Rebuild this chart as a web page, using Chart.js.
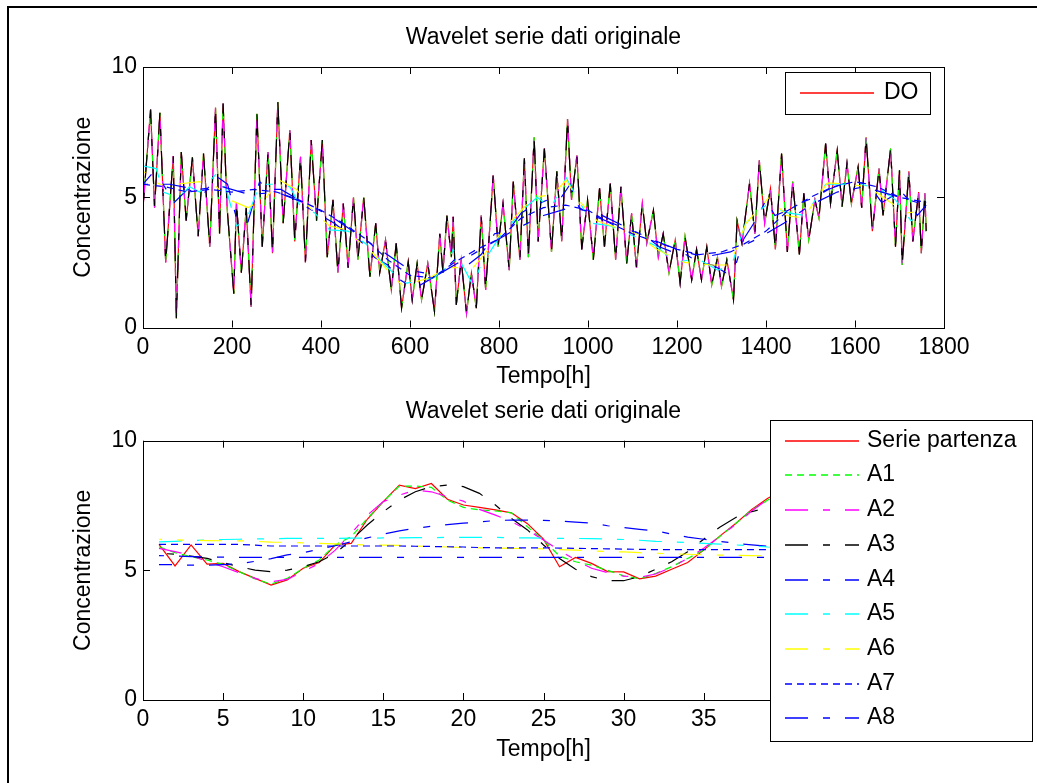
<!DOCTYPE html>
<html>
<head>
<meta charset="utf-8">
<title>Wavelet serie dati originale</title>
<script src="https://cdn.jsdelivr.net/npm/chart.js@4.4.1/dist/chart.umd.min.js"></script>
<style>
  html, body { margin: 0; padding: 0; background: #fff; overflow: hidden; }
  #page { position: relative; width: 1037px; height: 783px; overflow: hidden; }
  #frame { position: absolute; left: 7px; top: 6px; width: 1100px; height: 900px;
           border-left: 2px solid #000; border-top: 2px solid #000; }
  canvas { position: absolute; left: 0; }
  #topChart { top: 0; }
  #bottomChart { top: 390px; }
</style>
</head>
<body>
<div id="page">
  <div id="frame"></div>
  <canvas id="topChart" width="1037" height="390"></canvas>
  <canvas id="bottomChart" width="1037" height="393"></canvas>
</div>
<script>
// ---- top plot: full DO record (hours, value at each daily peak / trough) ----
const topHours = [0,17,26,38,51,68,75,86,97,111,124,136,150,163,172,180,189,204,210,221,
  232,243,256,268,281,291,303,315,330,341,354,365,378,390,403,414,427,438,450,461,
  473,483,496,510,523,532,545,558,569,581,596,605,616,626,640,655,667,674,683,693,
  697,704,715,727,738,749,760,770,787,798,809,823,832,847,857,866,879,888,902,918,
  930,941,954,963,975,986,999,1012,1026,1037,1050,1062,1074,1087,1098,1109,1122,1132,1147,1158,
  1169,1182,1196,1207,1218,1233,1244,1255,1267,1278,1291,1300,1312,1327,1335,1346,1363,1375,1385,1397,
  1410,1421,1435,1448,1460,1475,1485,1496,1510,1519,1534,1545,1560,1571,1582,1592,1607,1615,1625,1639,
  1654,1663,1680,1691,1700,1706,1721,1730,1743,1749,1757,1760];
const topDO = [4.6,8.37,4.6,8.24,2.5,6.58,0.36,6.74,4.1,6.53,3.5,6.68,3.1,8.44,3.6,8.6,4.6,1.3,4.8,2.1,
  4.6,0.8,8.2,3.1,6.74,2.85,8.66,4.0,7.57,3.3,6.55,2.5,7.2,4.1,7.2,2.7,4.9,2.1,4.76,2.3,
  5.0,2.6,5.0,1.95,4.0,2.1,3.36,1.44,3.23,0.74,2.53,1.06,2.46,1.06,2.46,0.61,3.6,2.1,4.3,2.7,
  4.25,0.87,2.6,0.55,2.1,0.74,4.3,1.44,5.85,3.1,4.76,2.2,5.6,2.6,6.5,2.7,7.3,3.3,6.87,2.9,
  6.0,3.3,8.0,4.9,6.6,3.0,4.9,2.6,5.34,3.1,5.53,2.6,5.4,2.46,4.38,2.3,4.76,3.23,4.5,2.7,
  3.6,2.1,3.36,1.7,3.5,1.83,3.0,1.83,3.1,1.63,2.7,1.57,2.6,1.06,4.1,3.23,5.53,3.6,6.42,4.0,
  5.34,3.0,6.68,2.9,5.6,2.8,5.15,3.36,4.9,4.2,7.06,4.76,6.8,4.64,6.3,4.75,6.17,4.6,7.3,3.7,
  6.1,4.3,6.87,3.1,6.04,2.4,6.0,3.3,5.2,2.85,5.15,3.7];
// A1..A3 lie on top of DO at this scale, so they use the same reading
const topA1 = topDO;
const topA2 = topDO;
const topA3 = topDO;

const topA4Hours = [0,20,45,70,100,135,165,190,210,235,262,280,310,340,370,400,430,460,490,520,
  550,580,610,640,670,700,730,760,790,820,850,880,910,940,960,980,1010,1040,1070,1100,
  1130,1160,1190,1220,1250,1280,1310,1330,1350,1380,1400,1420,1450,1480,1510,1540,1570,1600,1630,1660,
  1680,1700,1720,1740,1760];
const topA4 = [5.5,5.9,5.5,4.8,5.3,5.1,5.8,5.5,4.2,4.0,5.6,5.3,5.3,5.0,4.6,4.3,4.0,3.6,3.3,2.7,
  2.4,1.8,1.5,1.8,2.1,2.6,2.4,2.8,3.6,3.7,4.4,4.7,4.9,5.0,5.5,4.6,4.3,4.1,3.9,3.7,
  3.5,3.1,2.9,2.8,2.5,2.4,2.1,2.3,3.4,4.2,4.9,4.3,4.5,4.8,5.0,5.3,5.5,5.6,5.5,4.8,
  5.0,5.3,4.9,4.3,4.7];

const topA5Hours = [0,30,45,79,105,127,165,187,210,232,262,303,330,352,386,419,461,502,532,562,
  592,625,652,682,697,727,742,757,802,859,886,917,951,978,1009,1051,1097,1151,1197,1246,
  1292,1323,1354,1400,1450,1488,1534,1580,1614,1657,1691,1726,1760];
const topA5 = [6.2,6.1,5.2,5.0,5.4,5.2,5.9,5.3,3.9,4.1,5.5,5.5,5.4,4.7,4.4,3.75,3.7,3.2,2.6,2.1,
  1.7,1.8,1.9,2.3,3.0,2.1,1.6,2.3,3.5,4.6,5.0,4.6,5.75,4.9,4.0,3.9,3.55,3.15,2.5,2.65,
  2.2,2.4,4.0,4.7,4.4,4.3,5.5,5.5,5.5,5.3,4.9,4.1,4.4];

const topA6Hours = [0,37,75,127,165,195,236,277,307,345,375,419,457,479,517,554,584,622,644,682,
  742,786,817,878,920,951,978,1020,1070,1108,1154,1216,1277,1319,1355,1407,1446,1484,1538,1584,
  1630,1680,1718,1760];
const topA6 = [6.0,5.5,5.5,5.6,5.4,4.9,4.6,5.0,5.65,5.3,4.6,3.9,3.75,3.4,2.85,2.1,1.6,1.8,1.9,2.3,
  2.3,3.2,3.9,5.0,5.1,5.65,4.9,4.1,3.8,3.6,3.0,2.5,2.4,2.4,4.0,5.0,4.3,4.2,5.55,5.5,
  5.4,4.8,4.4,4.5];

const topA7Hours = [0,50,100,150,200,250,300,350,400,450,500,550,600,650,700,750,800,850,900,950,
  1000,1050,1100,1150,1200,1250,1300,1350,1400,1450,1500,1550,1600,1650,1700,1760];
const topA7 = [5.5,5.4,5.2,5.3,5.2,5.3,5.2,4.9,4.5,4.0,3.4,2.6,2.0,1.9,2.5,3.0,3.4,4.2,4.6,4.7,
  4.5,4.0,3.6,3.3,3.0,2.8,2.9,3.2,3.7,4.5,5.0,5.4,5.6,5.4,5.0,4.8];

const topA8Hours = [0,60,120,180,240,300,360,420,480,540,600,660,720,780,840,900,960,1020,1080,1140,
  1200,1260,1320,1380,1440,1500,1560,1620,1680,1740,1760];
const topA8 = [5.5,5.5,5.3,5.4,5.1,5.2,4.8,4.3,3.6,2.9,2.2,2.0,2.6,3.2,3.8,4.3,4.6,4.4,3.9,3.4,
  3.0,2.7,2.9,3.4,4.0,4.7,5.2,5.4,5.1,4.8,4.6];

// ---- bottom plot: first 40 hours ----
const bottomHours = [1,2,3,4,5,6,7,8,9,10,11,12,13,14,15,16,17,18,19,20,
  21,22,23,24,25,26,27,28,29,30,31,32,33,34,35,36,37,38,39,40];
const seriePartenza = [6.0,5.17,5.98,5.24,5.27,4.95,4.69,4.43,4.63,5.08,5.3,5.98,6.04,6.97,7.65,8.29,8.15,8.35,7.74,7.52,
  7.43,7.33,7.22,6.8,6.2,5.14,5.5,5.27,4.95,4.94,4.67,4.78,5.04,5.3,5.78,6.32,6.81,7.35,7.78,8.1];
const bottomA1 = [5.91,5.68,5.53,5.4,5.23,4.95,4.67,4.47,4.69,5.08,5.4,5.98,6.3,7.0,7.65,8.25,8.25,8.2,7.71,7.43,
  7.33,7.29,7.22,6.68,6.17,5.55,5.33,5.2,5.0,4.79,4.67,4.88,5.14,5.46,5.78,6.3,6.81,7.33,7.71,8.05];
const bottomA2 = [5.85,5.72,5.59,5.33,5.14,4.91,4.69,4.56,4.65,4.95,5.27,5.78,6.43,7.13,7.65,7.9,8.1,8.03,7.84,7.67,
  7.35,7.13,6.88,6.56,6.17,5.76,5.4,5.08,4.91,4.78,4.73,4.86,5.12,5.46,5.85,6.3,6.77,7.29,7.74,8.1];
const bottomA3 = [5.66,5.62,5.55,5.46,5.3,5.14,5.01,4.95,5.01,5.14,5.33,5.66,6.17,6.75,7.26,7.71,8.03,8.23,8.29,8.23,
  7.97,7.52,7.0,6.56,5.98,5.46,5.04,4.76,4.6,4.6,4.76,5.04,5.33,5.72,6.2,6.66,7.04,7.26,7.43,7.55];
const bottomA4 = [5.22,5.22,5.2,5.2,5.22,5.25,5.35,5.45,5.6,5.68,5.82,5.95,6.1,6.25,6.4,6.52,6.62,6.7,6.76,6.82,
  6.87,6.92,6.94,6.94,6.93,6.9,6.86,6.82,6.72,6.65,6.58,6.52,6.4,6.28,6.2,6.12,6.04,5.98,5.93,5.9];
const bottomA5 = [6.1,6.12,6.15,6.17,6.19,6.2,6.21,6.22,6.23,6.23,6.23,6.23,6.24,6.24,6.25,6.25,6.26,6.26,6.27,6.27,
  6.27,6.27,6.26,6.25,6.24,6.23,6.23,6.22,6.21,6.19,6.16,6.12,6.1,6.07,6.04,6.01,5.98,5.94,5.9,5.88];
const bottomA6 = [6.2,6.18,6.16,6.15,6.14,6.14,6.12,6.09,6.08,6.06,6.04,6.02,6.0,5.98,5.97,5.96,5.94,5.92,5.9,5.88,
  5.87,5.86,5.85,5.84,5.83,5.8,5.78,5.75,5.73,5.71,5.68,5.66,5.64,5.62,5.6,5.59,5.58,5.57,5.56,5.55];
const bottomA7 = [6.0,6.0,6.0,6.0,6.0,6.0,5.97,5.94,5.94,5.94,5.94,5.94,5.94,5.94,5.94,5.94,5.93,5.92,5.91,5.9,
  5.88,5.87,5.87,5.87,5.87,5.86,5.85,5.84,5.83,5.82,5.81,5.8,5.8,5.8,5.8,5.8,5.8,5.8,5.8,5.8];
const bottomA8 = [5.57,5.55,5.53,5.52,5.51,5.5,5.5,5.5,5.5,5.5,5.5,5.5,5.5,5.5,5.5,5.5,5.5,5.5,5.5,5.5,
  5.5,5.5,5.5,5.5,5.5,5.5,5.5,5.5,5.5,5.5,5.5,5.5,5.5,5.5,5.5,5.5,5.5,5.5,5.5,5.5];

const xTicksTop = { min: 0, max: 1800, step: 200 };
const xTicksBottom = { min: 0, max: 50, step: 5 };
const yTicks = { min: 0, max: 10, step: 5 };

// line styles like matlab: r-, g--, m-., k-., b-., c-., y-., b--, b-.
const DASH = [7, 5];
const DASHDOT = [23, 15, 7, 15];
const styles = [
  { color: '#ff0000', dash: [] },
  { color: '#00ff00', dash: DASH },
  { color: '#ff00ff', dash: DASHDOT },
  { color: '#000000', dash: DASHDOT },
  { color: '#0000ff', dash: DASHDOT },
  { color: '#00ffff', dash: DASHDOT },
  { color: '#ffff00', dash: DASHDOT },
  { color: '#0000ff', dash: DASH },
  { color: '#0000ff', dash: DASHDOT }
];
// dash phase per series, so overlapping dashed lines don't hide each other
const dashOffsets = [0, 0, 0, 30, 10, 0, 20, 0, 40];

const FONT = '"Liberation Sans", Arial, Helvetica, sans-serif';
const FS = 23;

function pts(xs, ys) {
  return xs.map((x, i) => ({ x: x, y: ys[i] }));
}

function makeSet(label, data, k) {
  return {
    label: label,
    data: data,
    borderColor: styles[k].color,
    borderDash: styles[k].dash,
    borderDashOffset: dashOffsets[k],
    borderWidth: 1.2,
    pointRadius: 0,
    tension: 0,
    fill: false,
    order: 9 - k   // later series on top, as in the original plot
  };
}

// box + inward tick marks on all four sides
const matlabAxes = {
  id: 'matlabAxes',
  afterDatasetsDraw(chart) {
    const { ctx, chartArea: a, scales: { x, y } } = chart;
    ctx.save();
    ctx.strokeStyle = '#000';
    ctx.lineWidth = 1;
    ctx.setLineDash([]);
    ctx.beginPath();
    x.ticks.forEach(t => {
      const px = Math.round(x.getPixelForValue(t.value)) + 0.5;
      ctx.moveTo(px, a.bottom); ctx.lineTo(px, a.bottom - 7);
      ctx.moveTo(px, a.top); ctx.lineTo(px, a.top + 7);
    });
    y.ticks.forEach(t => {
      const py = Math.round(y.getPixelForValue(t.value)) + 0.5;
      ctx.moveTo(a.left, py); ctx.lineTo(a.left + 7, py);
      ctx.moveTo(a.right, py); ctx.lineTo(a.right - 7, py);
    });
    ctx.stroke();
    ctx.strokeRect(Math.round(a.left) + 0.5, Math.round(a.top) + 0.5,
                   Math.round(a.width), Math.round(a.height));
    ctx.restore();
  }
};

// legend box drawn over the axes, at a fixed place like matlab's
function boxLegend(cfg) {
  return {
    id: 'boxLegend',
    afterDraw(chart) {
      const ctx = chart.ctx;
      const [l, t, r, b] = cfg.box;
      ctx.save();
      ctx.fillStyle = '#fff';
      ctx.fillRect(l, t, r - l, b - t);
      ctx.strokeStyle = '#000';
      ctx.lineWidth = 1;
      ctx.setLineDash([]);
      ctx.strokeRect(l + 0.5, t + 0.5, r - l, b - t);
      ctx.font = FS + 'px ' + FONT;
      ctx.textBaseline = 'middle';
      ctx.textAlign = 'left';
      cfg.items.forEach((k, n) => {
        const ds = chart.data.datasets[k];
        const yy = Math.round(cfg.firstRow + n * cfg.rowStep);
        ctx.strokeStyle = ds.borderColor;
        ctx.lineWidth = 1.6;
        ctx.setLineDash(ds.borderDash);
        ctx.beginPath();
        ctx.moveTo(cfg.lineX[0], yy);
        ctx.lineTo(cfg.lineX[1], yy);
        ctx.stroke();
        ctx.setLineDash([]);
        ctx.fillStyle = '#000';
        ctx.fillText(ds.label, cfg.textX, yy);
      });
      ctx.restore();
    }
  };
}

function axisOptions(xr, xHeight, xTitlePad, titlePad) {
  const font = { family: FONT, size: FS, weight: 'normal' };
  return {
    responsive: false,
    animation: false,
    events: [],
    layout: { padding: { left: 0, right: 93, top: 0, bottom: 0 } },
    plugins: {
      legend: { display: false },
      tooltip: { enabled: false },
      title: {
        display: true,
        fullSize: false,
        text: 'Wavelet serie dati originale',
        color: '#000',
        font: font,
        padding: titlePad
      }
    },
    scales: {
      x: {
        type: 'linear',
        min: xr.min, max: xr.max,
        ticks: { stepSize: xr.step, color: '#000', font: font, padding: 6, maxRotation: 0,
                 autoSkip: false, format: { useGrouping: false } },
        grid: { display: false, drawTicks: false },
        border: { display: false },
        title: { display: true, text: 'Tempo[h]', color: '#000', font: font,
                 padding: { top: 0, bottom: xTitlePad } },
        afterFit: s => { s.height = xHeight; }
      },
      y: {
        min: yTicks.min, max: yTicks.max,
        ticks: { stepSize: yTicks.step, color: '#000', font: font, padding: 6 },
        grid: { display: false, drawTicks: false },
        border: { display: false },
        title: { display: true, text: 'Concentrazione', color: '#000', font: font,
                 padding: { top: 70, bottom: 0 } },
        afterFit: s => { s.width = 143; }
      }
    }
  };
}

const labels = ['A1', 'A2', 'A3', 'A4', 'A5', 'A6', 'A7', 'A8'];

new Chart(document.getElementById('topChart'), {
  type: 'line',
  data: {
    datasets: [
      makeSet('DO', pts(topHours, topDO), 0),
      makeSet('A1', pts(topHours, topA1), 1),
      makeSet('A2', pts(topHours, topA2), 2),
      makeSet('A3', pts(topHours, topA3), 3),
      makeSet('A4', pts(topA4Hours, topA4), 4),
      makeSet('A5', pts(topA5Hours, topA5), 5),
      makeSet('A6', pts(topA6Hours, topA6), 6),
      makeSet('A7', pts(topA7Hours, topA7), 7),
      makeSet('A8', pts(topA8Hours, topA8), 8)
    ]
  },
  options: axisOptions(xTicksTop, 62.5, 0, { top: 24, bottom: 15.4 }),
  plugins: [matlabAxes, boxLegend({
    box: [785, 72, 930, 114], items: [0], firstRow: 93, rowStep: 0,
    lineX: [800, 874], textX: 884
  })]
});

const bottomSets = [bottomA1, bottomA2, bottomA3, bottomA4, bottomA5, bottomA6, bottomA7, bottomA8];
new Chart(document.getElementById('bottomChart'), {
  type: 'line',
  data: {
    datasets: [makeSet('Serie partenza', pts(bottomHours, seriePartenza), 0)]
      .concat(bottomSets.map((s, i) => makeSet(labels[i], pts(bottomHours, s), i + 1)))
  },
  options: axisOptions(xTicksBottom, 83, 20, { top: 7.5, bottom: 15.6 }),
  plugins: [matlabAxes, boxLegend({
    box: [770, 30, 1032, 351], items: [0, 1, 2, 3, 4, 5, 6, 7, 8], firstRow: 50.7, rowStep: 34.7,
    lineX: [785, 859], textX: 867
  })]
});
</script>
</body>
</html>
